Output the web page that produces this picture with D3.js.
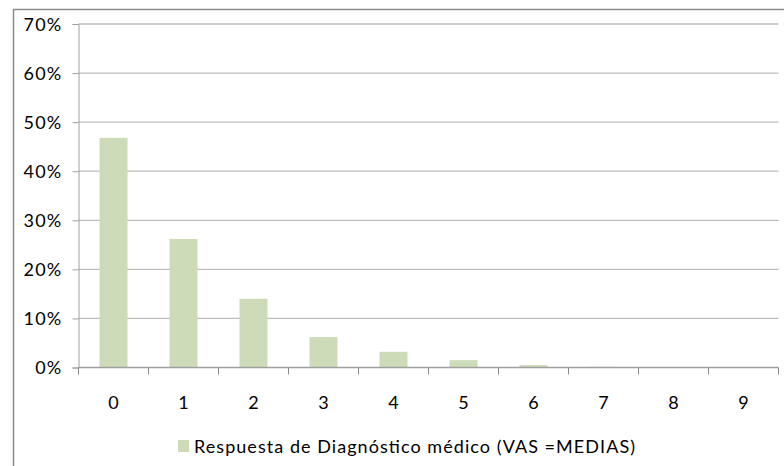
<!DOCTYPE html>
<html><head><meta charset="utf-8">
<script src="https://cdn.jsdelivr.net/npm/d3@7"></script>
<style>body{margin:0;background:#fff;}svg{display:block;}text{font-family:Lato,"Open Sans",sans-serif;fill:#000;}</style>
</head><body>
<svg id="c" width="784" height="466"></svg>
<script>
const categories = ["0","1","2","3","4","5","6","7","8","9"];
const values = [46.8, 26.2, 14.0, 6.2, 3.2, 1.5, 0.5, 0.15, 0.05, 0.02];
const yTicks = [0,10,20,30,40,50,60,70];
const seriesName = "Respuesta de Diagnóstico médico (VAS =MEDIAS)";

(function(){
const svg = d3.select("#c");
const pLeft = 78.5, pRight = 778.5, pTop = 24, pBottom = 367.5;
const barColor = "#cedbb8";

// outer chart border (only left/top visible)
svg.append("rect").attr("x",13.5).attr("y",9.5).attr("width",900).attr("height",600)
  .attr("fill","none").attr("stroke","#8c8c8c").attr("stroke-width",1.5);

const x = d3.scaleBand().domain(categories).range([pLeft,pRight]).paddingInner(0.6).paddingOuter(0.3);
const xb = d3.scaleBand().domain(categories).range([pLeft,pRight]).padding(0);
const y = d3.scaleLinear().domain([0,70]).range([pBottom,pTop]);

// gridlines
svg.append("g").selectAll("line").data(yTicks.slice(1)).join("line")
  .attr("x1",pLeft).attr("x2",pRight).attr("y1",d=>y(d)).attr("y2",d=>y(d))
  .attr("stroke","#bdbdbd").attr("stroke-width",1.3);

// y axis
const yAxis = d3.axisLeft(y).tickValues(yTicks).tickFormat(d=>d+"%").tickSize(6).tickPadding(10);
const gy = svg.append("g").attr("transform",`translate(${pLeft},0)`).call(yAxis);
gy.select(".domain").attr("stroke","#a0a0a0");
gy.selectAll(".tick line").attr("stroke","#a0a0a0");
gy.selectAll("text").attr("font-size",18).attr("font-family","Lato").attr("dy","0.36em")
  .attr("letter-spacing","1.2px");

// bars
svg.append("g").selectAll("rect").data(values).join("rect")
  .attr("x",(d,i)=>x(categories[i])).attr("width",x.bandwidth())
  .attr("y",d=>y(d)).attr("height",d=>pBottom-y(d)).attr("fill",barColor);

// x axis
const gx = svg.append("g").attr("transform",`translate(0,${pBottom})`);
gx.append("line").attr("x1",pLeft).attr("x2",pRight).attr("stroke","#a0a0a0").attr("stroke-width",1.3);
gx.selectAll("line.t").data(categories.concat(["end"])).join("line").attr("class","t")
  .attr("x1",(d,i)=>pLeft+i*xb.step()).attr("x2",(d,i)=>pLeft+i*xb.step())
  .attr("y1",0).attr("y2",7).attr("stroke","#8a8a8a");
gx.selectAll("text").data(categories).join("text")
  .attr("x",d=>xb(d)+xb.bandwidth()/2).attr("y",41.5).attr("text-anchor","middle")
  .attr("font-size",18).text(d=>d);

// legend
const lg = svg.append("g");
lg.append("rect").attr("x",178).attr("y",440).attr("width",11).attr("height",12).attr("fill",barColor);
lg.append("text").attr("x",194).attr("y",452.5).attr("font-size",18)
  .attr("textLength",441).attr("lengthAdjust","spacing").text(seriesName);
})();
</script>
</body></html>
